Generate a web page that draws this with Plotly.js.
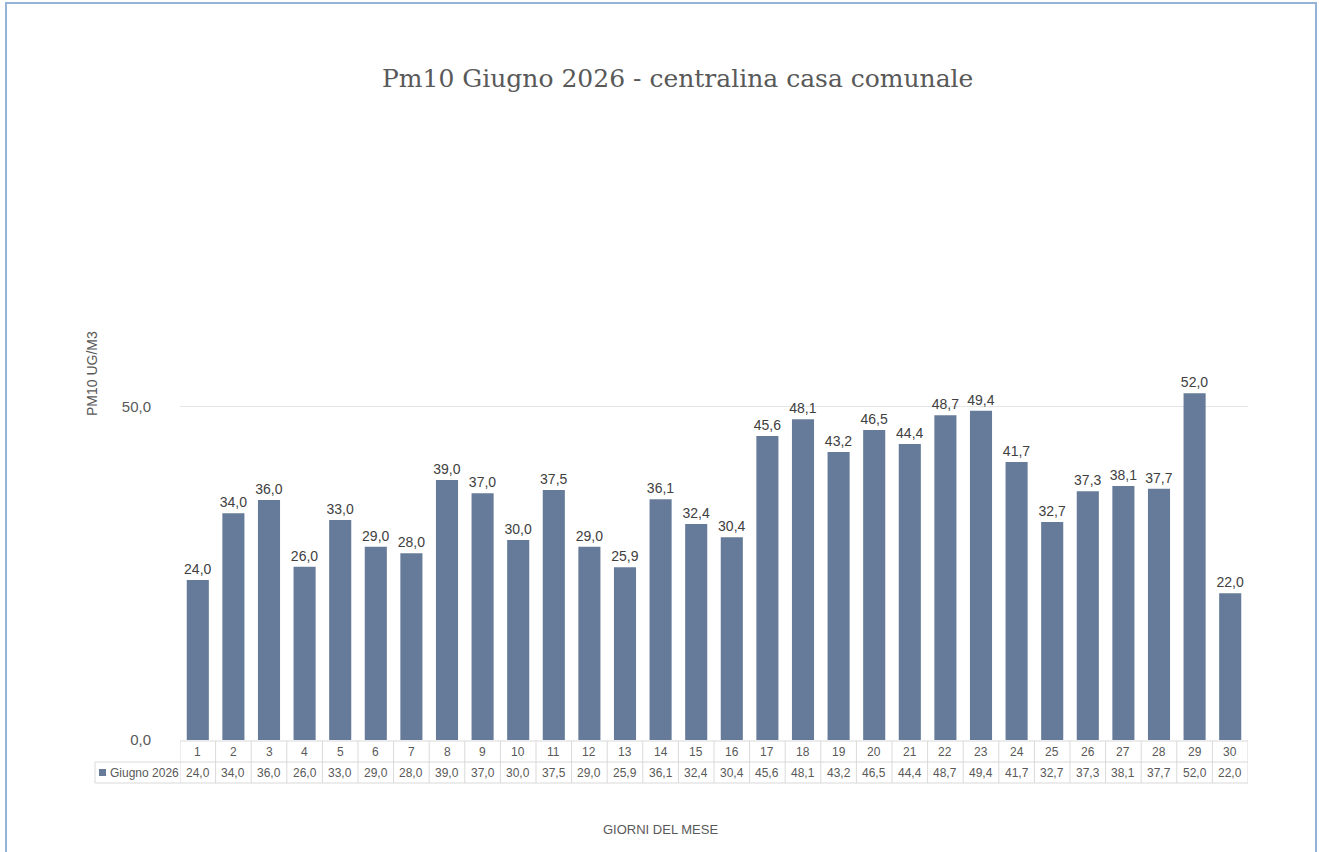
<!DOCTYPE html>
<html>
<head>
<meta charset="utf-8">
<script src="https://cdn.plot.ly/plotly-3.0.1.min.js"></script>
<style>html,body{margin:0;padding:0;background:#fff;}#chart{width:1319px;height:852px;}</style>
</head>
<body>
<div id="chart"></div>
<script>
const days = [1,2,3,4,5,6,7,8,9,10,11,12,13,14,15,16,17,18,19,20,21,22,23,24,25,26,27,28,29,30];
const values = [24.0,34.0,36.0,26.0,33.0,29.0,28.0,39.0,37.0,30.0,37.5,29.0,25.9,36.1,32.4,30.4,45.6,48.1,43.2,46.5,44.4,48.7,49.4,41.7,32.7,37.3,38.1,37.7,52.0,22.0];
const seriesName = "Giugno 2026";
const yTicks = [0, 50];
const titleText = "Pm10 Giugno 2026 - centralina casa comunale";
const yTitle = "PM10 UG/M3";
const xTitle = "GIORNI DEL MESE";

const W = 1319, H = 852;
const L = 180, R = 1248, T = 340, B = 740;
const pw = R - L, ph = B - T;
const px = x => (x - L) / pw;
const py = y => (B - y) / ph;

const barColor = "#667b99";
const gridCol = "#d9d9d9";
const txtCol = "#595959";
const font = "Liberation Sans, Arial, sans-serif";
const fmt = v => v.toFixed(1).replace('.', ',');

const shapes = [];
const annotations = [];

// outer frame
shapes.push({type:'rect', xref:'paper', yref:'paper', x0:px(6), x1:px(1316), y0:py(3), y1:py(900),
  line:{color:'#95b3d7', width:2}, fillcolor:'rgba(0,0,0,0)', layer:'below'});

// data table borders
const tTop = 741, tMid = 762, tBot = 783, legL = 95;
shapes.push({type:'line', xref:'paper', yref:'paper', x0:0, x1:1, y0:py(tTop), y1:py(tTop), line:{color:gridCol,width:1}});
shapes.push({type:'line', xref:'paper', yref:'paper', x0:px(legL), x1:1, y0:py(tMid), y1:py(tMid), line:{color:gridCol,width:1}});
shapes.push({type:'line', xref:'paper', yref:'paper', x0:px(legL), x1:1, y0:py(tBot), y1:py(tBot), line:{color:gridCol,width:1}});
shapes.push({type:'line', xref:'paper', yref:'paper', x0:px(legL), x1:px(legL), y0:py(tMid), y1:py(tBot), line:{color:gridCol,width:1}});
for (let i = 0; i <= days.length; i++) {
  shapes.push({type:'line', xref:'x', yref:'paper', x0:days[0]-0.5+i, x1:days[0]-0.5+i, y0:py(tTop), y1:py(tBot), line:{color:gridCol,width:1}});
}

// table text
days.forEach((d, i) => {
  annotations.push({xref:'x', yref:'paper', x:d, y:py((tTop+tMid)/2), text:String(d), showarrow:false,
    font:{family:font, size:12, color:txtCol}, xanchor:'center', yanchor:'middle'});
  annotations.push({xref:'x', yref:'paper', x:d, y:py((tMid+tBot)/2), text:fmt(values[i]), showarrow:false,
    font:{family:font, size:12, color:txtCol}, xanchor:'center', yanchor:'middle'});
});
// legend cell
shapes.push({type:'rect', xref:'paper', yref:'paper', x0:px(99), x1:px(106), y0:py(769), y1:py(776),
  line:{width:0}, fillcolor:barColor});
annotations.push({xref:'paper', yref:'paper', x:px(108), y:py((tMid+tBot)/2), text:seriesName, showarrow:false,
  font:{family:font, size:12, color:txtCol}, xanchor:'left', yanchor:'middle'});

// titles
annotations.push({xref:'paper', yref:'paper', x:px(677), y:py(78), text:titleText, showarrow:false,
  font:{family:'DejaVu Serif, Liberation Serif, serif', size:25, color:txtCol}, xanchor:'center', yanchor:'middle'});
annotations.push({xref:'paper', yref:'paper', x:px(92), y:py(374), text:yTitle, showarrow:false, textangle:-90,
  font:{family:font, size:14, color:txtCol}, xanchor:'center', yanchor:'middle'});
annotations.push({xref:'paper', yref:'paper', x:px(660), y:py(829), text:xTitle, showarrow:false,
  font:{family:font, size:13, color:txtCol}, xanchor:'center', yanchor:'middle'});

const trace = {
  type:'bar', x:days, y:values, name:seriesName,
  marker:{color:barColor, line:{width:0}},
  texttemplate:'%{y:.1f}', textposition:'outside', cliponaxis:false, constraintext:'none',
  textfont:{family:font, size:14, color:'#404040'},
  hoverinfo:'skip'
};

const layout = {
  width:W, height:H,
  margin:{l:L, r:W-R, t:T, b:H-B, pad:0},
  paper_bgcolor:'#ffffff', plot_bgcolor:'#ffffff',
  separators:',.',
  showlegend:false,
  bargap:0.38,
  xaxis:{range:[0.5,30.5], showticklabels:false, ticks:'', showgrid:false, zeroline:false, showline:false, fixedrange:true},
  yaxis:{range:[0,60], tickvals:yTicks, tickformat:'.1f', showgrid:true, gridcolor:'#e6e6e6', gridwidth:1,
    zeroline:false, showline:false, ticks:'', ticklabelstandoff:28,
    tickfont:{family:font, size:15, color:txtCol}, fixedrange:true},
  shapes:shapes, annotations:annotations
};

Plotly.newPlot('chart', [trace], layout, {displayModeBar:false, staticPlot:true});
</script>
</body>
</html>
